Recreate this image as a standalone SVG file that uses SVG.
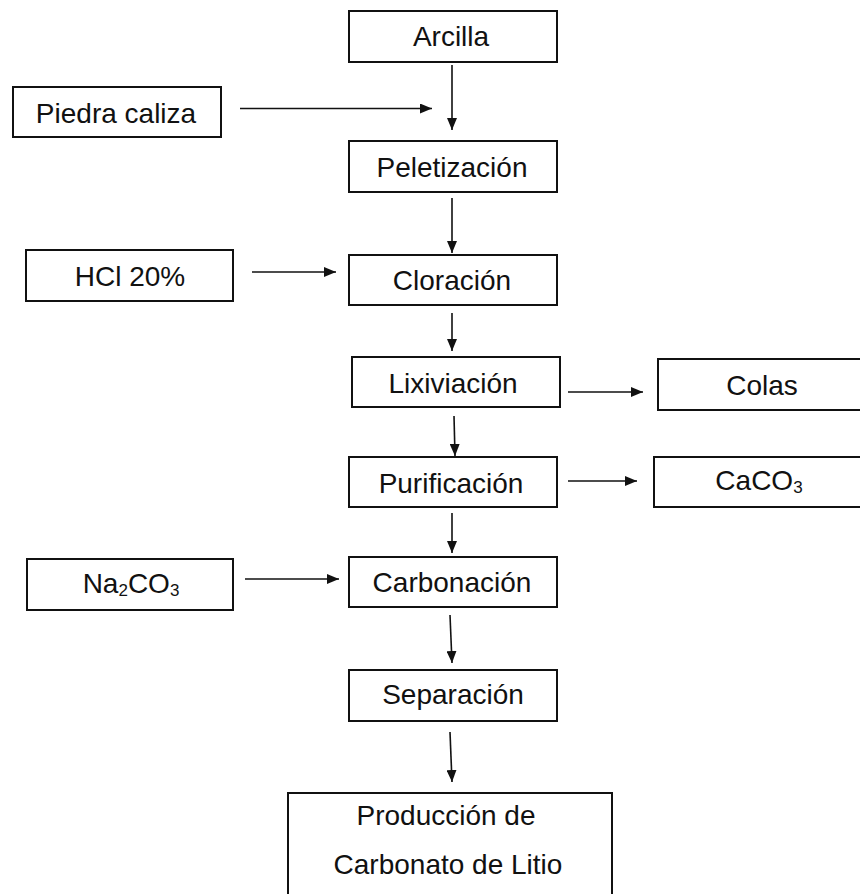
<svg xmlns="http://www.w3.org/2000/svg" width="860" height="894" viewBox="0 0 860 894">
<style>
.box{fill:#fff;stroke:#111;stroke-width:2}
.t{font-family:"Liberation Sans",Arial,sans-serif;font-size:28px;fill:#111;text-anchor:middle}
.sub{font-size:17px}
.c{stroke:#111;stroke-width:1.6;fill:none}
</style>
<defs>
<marker id="ah" markerUnits="userSpaceOnUse" markerWidth="13" markerHeight="10" refX="12" refY="5" orient="auto">
<path d="M0,0 L12,5 L0,10 z" fill="#111"/>
</marker>
</defs>
<rect width="860" height="894" fill="#fff"/>
<g id="connectors">
<line class="c" x1="240" y1="108.5" x2="432" y2="108.5" marker-end="url(#ah)"/>
<line class="c" x1="452" y1="65" x2="452" y2="130" marker-end="url(#ah)"/>
<line class="c" x1="452" y1="198" x2="452" y2="253" marker-end="url(#ah)"/>
<line class="c" x1="252" y1="272" x2="336" y2="272" marker-end="url(#ah)"/>
<line class="c" x1="452" y1="313" x2="452" y2="351" marker-end="url(#ah)"/>
<line class="c" x1="568" y1="392" x2="643" y2="392" marker-end="url(#ah)"/>
<line class="c" x1="454" y1="416" x2="455" y2="456" marker-end="url(#ah)"/>
<line class="c" x1="568" y1="481" x2="637" y2="481" marker-end="url(#ah)"/>
<line class="c" x1="452" y1="513" x2="452" y2="553" marker-end="url(#ah)"/>
<line class="c" x1="245" y1="579" x2="339" y2="579" marker-end="url(#ah)"/>
<line class="c" x1="450" y1="615" x2="452" y2="663" marker-end="url(#ah)"/>
<line class="c" x1="450" y1="732" x2="452" y2="782" marker-end="url(#ah)"/>
</g>
<g id="arcilla"><rect class="box" x="349" y="11" width="208" height="51"/><text class="t" x="451" y="46">Arcilla</text></g>
<g id="piedra"><rect class="box" x="13" y="87" width="208" height="50"/><text class="t" x="116" y="123">Piedra caliza</text></g>
<g id="peletizacion"><rect class="box" x="349" y="141" width="208" height="51"/><text class="t" x="452" y="177">Peletización</text></g>
<g id="hcl"><rect class="box" x="26" y="250" width="207" height="51"/><text class="t" x="130" y="286">HCl 20%</text></g>
<g id="cloracion"><rect class="box" x="349" y="255" width="208" height="50"/><text class="t" x="452" y="290">Cloración</text></g>
<g id="lixiviacion"><rect class="box" x="352" y="357" width="208" height="50"/><text class="t" x="453" y="393">Lixiviación</text></g>
<g id="colas"><rect class="box" x="658" y="359" width="212" height="51"/><text class="t" x="762" y="395">Colas</text></g>
<g id="purificacion"><rect class="box" x="349" y="457" width="208" height="50"/><text class="t" x="451" y="493">Purificación</text></g>
<g id="caco3"><rect class="box" x="654" y="457" width="216" height="50"/><text class="t" x="759" y="490">CaCO<tspan class="sub" dy="3">3</tspan></text></g>
<g id="na2co3"><rect class="box" x="27" y="559" width="206" height="51"/><text class="t" x="131" y="593">Na<tspan class="sub" dy="3">2</tspan><tspan dy="-3">CO</tspan><tspan class="sub" dy="3">3</tspan></text></g>
<g id="carbonacion"><rect class="box" x="349" y="557" width="208" height="50"/><text class="t" x="452" y="592">Carbonación</text></g>
<g id="separacion"><rect class="box" x="349" y="670" width="208" height="51"/><text class="t" x="453" y="704">Separación</text></g>
<g id="produccion"><rect class="box" x="288" y="793" width="324" height="104"/><text class="t" x="446" y="825">Producción de</text><text class="t" x="448" y="874">Carbonato de Litio</text></g>
</svg>
